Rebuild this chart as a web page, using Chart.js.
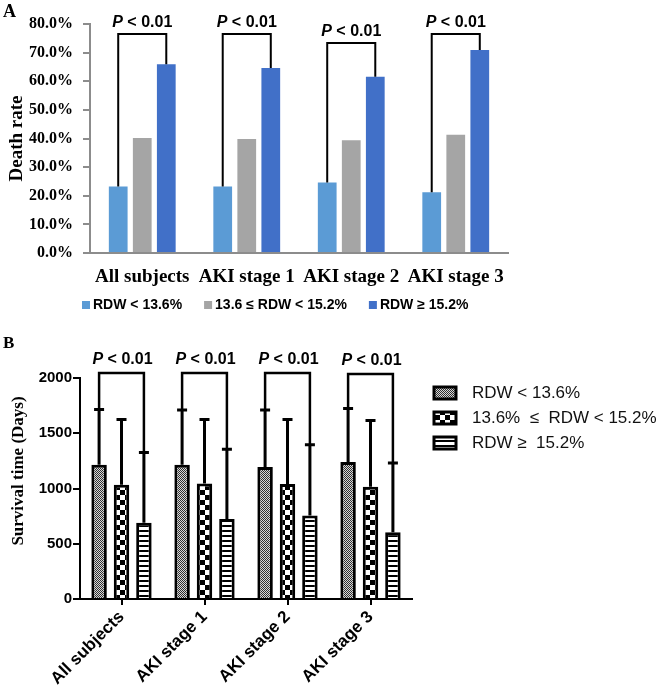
<!DOCTYPE html>
<html>
<head>
<meta charset="utf-8">
<script src="https://cdn.jsdelivr.net/npm/chart.js@4/dist/chart.umd.min.js"></script>
<style>
  body { margin: 0; background: #fff; }
  #wrapA { position: absolute; left: 0; top: 0; width: 663px; height: 330px; }
  #wrapB { position: absolute; left: 0; top: 330px; width: 663px; height: 358px; }
</style>
</head>
<body>
<div id="wrapA"><canvas id="deathChart"></canvas></div>
<div id="wrapB"><canvas id="survChart"></canvas></div>
<script>
// groups shared by both panels
var groups = ['All subjects', 'AKI stage 1', 'AKI stage 2', 'AKI stage 3'];

// panel A: death rate (%)
var legendA = ['RDW < 13.6%', '13.6 \u2264 RDW < 15.2%', 'RDW \u2265 15.2%'];
var deathLow = [23.2, 23.2, 24.6, 21.2];
var deathMid = [40.2, 39.8, 39.4, 41.3];
var deathHigh = [65.9, 64.6, 61.6, 70.9];
var bracketA = [76.5, 76.5, 73.4, 76.5];
var ticksA = [0, 10, 20, 30, 40, 50, 60, 70, 80];

// panel B: survival time (days), mean and SD
var legendB = ['RDW < 13.6%', '13.6%  \u2264  RDW < 15.2%', 'RDW \u2265  15.2%'];
var survLow = [1215, 1215, 1195, 1240];
var survMid = [1035, 1045, 1040, 1015];
var survHigh = [690, 725, 755, 605];
var sdLow = [500, 495, 515, 485];
var sdMid = [590, 580, 585, 600];
var sdHigh = [635, 630, 640, 625];
var bracketB = [2045, 2045, 2045, 2036];
var ticksB = [0, 500, 1000, 1500, 2000];

var SERIF = '"Liberation Serif", "Times New Roman", serif';
var SANS = '"Liberation Sans", Arial, sans-serif';

function drawP(ctx, cx, baseY, size) {
  ctx.textAlign = 'left';
  ctx.textBaseline = 'alphabetic';
  ctx.fillStyle = '#000';
  ctx.font = 'italic bold ' + size + 'px ' + SANS;
  var w1 = ctx.measureText('P').width;
  ctx.font = 'bold ' + size + 'px ' + SANS;
  var w2 = ctx.measureText(' < 0.01').width;
  var x = cx - (w1 + w2) / 2;
  ctx.font = 'italic bold ' + size + 'px ' + SANS;
  ctx.fillText('P', x, baseY);
  ctx.font = 'bold ' + size + 'px ' + SANS;
  ctx.fillText(' < 0.01', x + w1, baseY);
}

function makePattern(kind) {
  var c = document.createElement('canvas');
  var g;
  if (kind === 'dots') {
    c.width = 2; c.height = 2;
    g = c.getContext('2d');
    g.fillStyle = '#d8d8d8'; g.fillRect(0, 0, 2, 2);
    g.fillStyle = '#303030'; g.fillRect(0, 0, 1, 1); g.fillRect(1, 1, 1, 1);
  } else if (kind === 'checks') {
    c.width = 10; c.height = 10;
    g = c.getContext('2d');
    g.fillStyle = '#fff'; g.fillRect(0, 0, 10, 10);
    g.fillStyle = '#000'; g.fillRect(0, 0, 5, 5); g.fillRect(5, 5, 5, 5);
  } else {
    c.width = 4; c.height = 5;
    g = c.getContext('2d');
    g.fillStyle = '#fff'; g.fillRect(0, 0, 4, 5);
    g.fillStyle = '#000'; g.fillRect(0, 0, 4, 2);
  }
  return g.createPattern(c, 'repeat');
}

var colorsA = ['#5b9bd5', '#a5a5a5', '#4170c8'];

var annotA = {
  id: 'annotA',
  afterDraw: function (chart) {
    var ctx = chart.ctx, y = chart.scales.y;
    var low = chart.getDatasetMeta(0).data, high = chart.getDatasetMeta(2).data;
    ctx.save();
    ctx.strokeStyle = '#000';
    ctx.lineWidth = 2;
    for (var i = 0; i < groups.length; i++) {
      var top = y.getPixelForValue(bracketA[i]);
      ctx.beginPath();
      ctx.moveTo(low[i].x, low[i].y);
      ctx.lineTo(low[i].x, top);
      ctx.lineTo(high[i].x, top);
      ctx.lineTo(high[i].x, high[i].y);
      ctx.stroke();
      drawP(ctx, (low[i].x + high[i].x) / 2, top - 7, 16);
    }
    // legend
    var lx = 82, ly = 305;
    ctx.font = 'bold 14px ' + SANS;
    ctx.textBaseline = 'middle';
    ctx.textAlign = 'left';
    chart.data.datasets.forEach(function (ds) {
      ctx.fillStyle = ds.backgroundColor;
      ctx.fillRect(lx, ly - 4, 8, 8);
      ctx.fillStyle = '#000';
      ctx.fillText(ds.label, lx + 11, ly);
      lx += 11 + ctx.measureText(ds.label).width + 22;
    });
    ctx.font = 'bold 18px ' + SERIF;
    ctx.textBaseline = 'alphabetic';
    ctx.fillText('A', 3, 17);
    ctx.restore();
  }
};

new Chart(document.getElementById('deathChart'), {
  type: 'bar',
  data: {
    labels: groups,
    datasets: [
      { label: legendA[0], data: deathLow, backgroundColor: colorsA[0] },
      { label: legendA[1], data: deathMid, backgroundColor: colorsA[1] },
      { label: legendA[2], data: deathHigh, backgroundColor: colorsA[2] }
    ]
  },
  options: {
    responsive: true,
    maintainAspectRatio: false,
    animation: false,
    layout: { padding: { top: 24, right: 155, left: 0, bottom: 0 } },
    datasets: { bar: { categoryPercentage: 0.69, barPercentage: 0.78 } },
    plugins: { legend: { display: false }, tooltip: { enabled: false } },
    scales: {
      x: {
        grid: { display: false },
        border: { color: '#8c8c8c', width: 2 },
        ticks: { color: '#000', font: { family: SERIF, size: 19, weight: 'bold' }, padding: 5, maxRotation: 0 },
        afterFit: function (s) { s.height = 77; }
      },
      y: {
        min: ticksA[0],
        max: ticksA[ticksA.length - 1],
        afterBuildTicks: function (s) { s.ticks = ticksA.map(function (v) { return { value: v }; }); },
        ticks: {
          color: '#000',
          padding: 10,
          font: { family: SERIF, size: 16, weight: 'bold' },
          callback: function (v) { return v.toFixed(1) + '%'; }
        },
        grid: { drawOnChartArea: false, color: '#8c8c8c', tickLength: 7, lineWidth: 2 },
        border: { color: '#8c8c8c', width: 2 },
        title: {
          display: true, text: 'Death rate', color: '#000',
          font: { family: SERIF, size: 19, weight: 'bold' },
          padding: { top: 6, bottom: 0 }
        },
        afterFit: function (s) { s.width = 90; }
      }
    }
  },
  plugins: [annotA]
});

var patterns = [makePattern('dots'), makePattern('checks'), makePattern('stripes')];
var sdB = [sdLow, sdMid, sdHigh];

var annotB = {
  id: 'annotB',
  afterDatasetsDraw: function (chart) {
    var ctx = chart.ctx, y = chart.scales.y;
    ctx.save();
    ctx.strokeStyle = '#000';
    ctx.lineCap = 'butt';
    for (var d = 0; d < 3; d++) {
      var bars = chart.getDatasetMeta(d).data;
      var vals = chart.data.datasets[d].data;
      for (var i = 0; i < bars.length; i++) {
        var cap = y.getPixelForValue(vals[i] + sdB[d][i]);
        ctx.lineWidth = 3;
        ctx.beginPath();
        ctx.moveTo(bars[i].x, bars[i].y);
        ctx.lineTo(bars[i].x, cap);
        ctx.moveTo(bars[i].x - 5, cap);
        ctx.lineTo(bars[i].x + 5, cap);
        ctx.stroke();
      }
    }
    var b1 = chart.getDatasetMeta(0).data, b3 = chart.getDatasetMeta(2).data;
    for (var j = 0; j < groups.length; j++) {
      var top = y.getPixelForValue(bracketB[j]);
      var c1 = y.getPixelForValue(survLow[j] + sdLow[j]);
      var c3 = y.getPixelForValue(survHigh[j] + sdHigh[j]);
      ctx.lineWidth = 2.5;
      ctx.beginPath();
      ctx.moveTo(b1[j].x, c1);
      ctx.lineTo(b1[j].x, top);
      ctx.lineTo(b3[j].x, top);
      ctx.lineTo(b3[j].x, c3);
      ctx.stroke();
      drawP(ctx, (b1[j].x + b3[j].x) / 2 + 1, top - 9, 16);
    }
    ctx.restore();
  },
  afterDraw: function (chart) {
    var ctx = chart.ctx;
    ctx.save();
    var rows = [63, 88, 113];
    chart.data.datasets.forEach(function (ds, k) {
      ctx.fillStyle = ds.backgroundColor;
      ctx.fillRect(434, rows[k] - 6, 22, 12);
      ctx.strokeStyle = '#000';
      ctx.lineWidth = 3;
      ctx.strokeRect(434, rows[k] - 6, 22, 12);
      ctx.fillStyle = '#111';
      ctx.font = '17px ' + SANS;
      ctx.textAlign = 'left';
      ctx.textBaseline = 'middle';
      ctx.fillText(ds.label, 472, rows[k]);
    });
    // y title
    ctx.save();
    ctx.translate(19, 141);
    ctx.rotate(-Math.PI / 2);
    ctx.font = 'bold 17px ' + SERIF;
    ctx.fillStyle = '#000';
    ctx.textAlign = 'center';
    ctx.textBaseline = 'middle';
    ctx.fillText('Survival time (Days)', 0, 0);
    ctx.restore();
    ctx.font = 'bold 17px ' + SERIF;
    ctx.fillStyle = '#000';
    ctx.textAlign = 'left';
    ctx.textBaseline = 'alphabetic';
    ctx.fillText('B', 3, 18);
    ctx.restore();
  }
};

new Chart(document.getElementById('survChart'), {
  type: 'bar',
  data: {
    labels: groups,
    datasets: [
      { label: legendB[0], data: survLow, backgroundColor: patterns[0], borderColor: '#000', borderWidth: 3 },
      { label: legendB[1], data: survMid, backgroundColor: patterns[1], borderColor: '#000', borderWidth: 3 },
      { label: legendB[2], data: survHigh, backgroundColor: patterns[2], borderColor: '#000', borderWidth: 3 }
    ]
  },
  options: {
    responsive: true,
    maintainAspectRatio: false,
    animation: false,
    layout: { padding: { top: 48, right: 251, left: 0, bottom: 0 } },
    datasets: { bar: { categoryPercentage: 0.81, barPercentage: 0.69 } },
    plugins: { legend: { display: false }, tooltip: { enabled: false } },
    scales: {
      x: {
        grid: { display: true, drawOnChartArea: false, offset: false, color: '#000', lineWidth: 2, tickLength: 6 },
        border: { color: '#000', width: 2 },
        ticks: { color: '#000', font: { family: SANS, size: 17, weight: 'bold' }, minRotation: 45, maxRotation: 45, padding: 2 },
        afterFit: function (s) { s.height = 89; }
      },
      y: {
        min: ticksB[0],
        max: ticksB[ticksB.length - 1],
        afterBuildTicks: function (s) { s.ticks = ticksB.map(function (v) { return { value: v }; }); },
        ticks: {
          color: '#000', padding: 1,
          font: { family: SANS, size: 15, weight: 'bold' },
          callback: function (v) { return String(v); }
        },
        grid: { drawOnChartArea: false, color: '#000', lineWidth: 2, tickLength: 7 },
        border: { color: '#000', width: 2 },
        afterFit: function (s) { s.width = 80; }
      }
    }
  },
  plugins: [annotB]
});
</script>
</body>
</html>
